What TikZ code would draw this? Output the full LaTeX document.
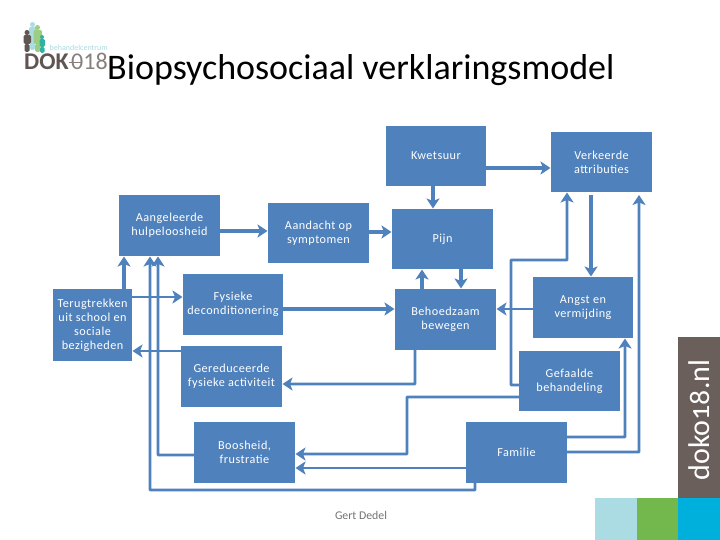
\documentclass[tikz,border=0pt]{standalone}
\usepackage{fontspec}
\setmainfont{Carlito}
\usetikzlibrary{arrows.meta,calc}
\definecolor{boxb}{HTML}{4F81BD}
\definecolor{brn}{HTML}{6B5F5C}
\definecolor{lblue}{HTML}{ABDCE4}
\definecolor{grn}{HTML}{72B84C}
\definecolor{cyn}{HTML}{00B0DC}
\definecolor{logod}{HTML}{5F5552}
\tikzset{
  bx/.style={fill=boxb,draw=none,text=white,align=center,inner sep=0pt,outer sep=0pt,font=\fontsize{12.2}{14}\selectfont\addfontfeatures{LetterSpace=4}},
  arr/.style={draw=boxb,line width=3.2pt,-{Stealth[length=10pt,width=13pt,inset=2.5pt]},shorten >=0.5pt},
  lin/.style={draw=boxb,line width=2.7pt,-{Stealth[length=10pt,width=13pt,inset=2.5pt]},shorten >=0.5pt,rounded corners=0.5pt},
  fig/.style={rounded corners=1.5pt},
}
\newcommand{\bxn}[6]{\node[bx,minimum width=#4pt,minimum height=#5pt] (#1) at (#2,#3) {#6};}
\begin{document}
\begin{tikzpicture}[x=1pt,y=-1pt]
\useasboundingbox (0,0) rectangle (720,540);
\fill[white] (0,0) rectangle (720,540);
% logo figures
\fill[lblue] (32.5,24.5) circle (2.5);
\fill[lblue,fig] (29,27) rectangle (37,41);
\fill[lblue,fig] (30,41) rectangle (35,50);
\fill[grn!70!white] (37.5,27.5) circle (2.5);
\fill[grn!70!white,fig] (33.5,30) rectangle (42,44);
\fill[grn!70!white,fig] (35,44) rectangle (40.5,52);
\fill[logod] (27,32.5) circle (2.5);
\fill[logod,fig] (23.5,35) rectangle (31,44);
\fill[logod,fig] (24.5,44) rectangle (29.5,52);
\fill[cyn!60!grn] (42,37) circle (2);
\fill[cyn!60!grn,fig] (39.5,39) rectangle (45,47);
\fill[cyn!60!grn,fig] (40,47) rectangle (44.5,53);
\node[anchor=west,inner sep=0pt,text=lblue] (lg1) at (49.5,48) {\fontsize{8}{9}\selectfont behandelcentrum};
\node[anchor=base west,inner sep=0pt,text=logod] (lg2) at (24,70) {\fontsize{24}{26}\selectfont\bfseries DOK};
\node[anchor=base west,inner sep=0pt,text=logod!75!white] (lg3) at (71,70) {\fontsize{24}{26}\selectfont 018};
\draw[logod!75!white,line width=1pt] (lg2.east |- 0,62.5) -- +(12,0);
\node[anchor=base west,inner sep=0pt,text=black] (title) at (107,79.5) {\fontsize{36}{40}\selectfont Biopsychosociaal verklaringsmodel};
% boxes
\bxn{kw}{436}{156}{100}{60}{Kwetsuur}
\bxn{ve}{601.5}{162}{101}{60}{Verkeerde\\attributies}
\bxn{pi}{442.5}{239}{101}{60}{Pijn}
\bxn{be}{445.5}{319.5}{101}{61}{Behoedzaam\\bewegen}
\bxn{an}{583}{307.5}{100}{61}{Angst en\\vermijding}
\bxn{ge}{569.5}{381}{101}{60}{Gefaalde\\behandeling}
\bxn{fa}{516.5}{452.5}{101}{61}{Familie}
\bxn{aa}{169.5}{225.5}{101}{61}{Aangeleerde\\hulpeloosheid}
\bxn{ad}{318.5}{233}{101}{60}{Aandacht op\\symptomen}
\bxn{te}{92.5}{325}{79}{72}{Terugtrekken\\uit school en\\sociale\\bezigheden}
\bxn{fy}{233}{304.5}{100}{61}{Fysieke\\deconditionering}
\bxn{gr}{231.5}{376.5}{101}{61}{Gereduceerde\\fysieke activiteit}
\bxn{bo}{244.5}{452.5}{101}{61}{Boosheid,\\frustratie}
% connectors
\draw[arr] (aa.east |- 0,231) -- (ad.west |- 0,231);
\draw[arr] (ad.east |- 0,232) -- (pi.west |- 0,232);
\draw[arr] (kw.south -| 433,0) -- (pi.north -| 433,0);
\draw[arr] (kw.east |- 0,168) -- (ve.west |- 0,168);
\draw[arr,shorten <=3pt] (ve.south -| 591,0) -- (an.north -| 591,0);
\draw[arr] (pi.south -| 461,0) -- (be.north -| 461,0);
\draw[arr] (be.north -| 422,0) -- (pi.south -| 422,0);
\draw[arr] (fy.east |- 0,309) -- (be.west |- 0,309);
\draw[lin] (an.west |- 0,309) -- (be.east |- 0,309);
\draw[lin] (ge.west |- 0,385) -- (511,385) -- (511,260) -- (567,260) -- (ve.south -| 567,0);
\draw[lin] (fa.east |- 0,437) -- (625,437) -- (an.south -| 625,0);
\draw[lin,shorten >=3pt] (fa.east |- 0,452) -- (639,452) -- (ve.south -| 639,0);
\draw[lin] (ge.west |- 0,397) -- (407,397) -- (407,454) -- (bo.east |- 0,454);
\draw[lin] (fa.west |- 0,468) -- (bo.east |- 0,468);
\draw[lin] (fa.south -| 475,0) -- (475,490) -- (150,490) -- (aa.south -| 150,0);
\draw[lin] (bo.west |- 0,455) -- (158,455) -- (aa.south -| 158,0);
\draw[arr] (te.north -| 124,0) -- (aa.south -| 124,0);
\draw[lin] (te.east |- 0,297) -- (fy.west |- 0,297);
\draw[lin] (gr.west |- 0,351) -- (te.east |- 0,351);
\draw[lin] (be.south -| 415,0) -- (415,384) -- (gr.east |- 0,384);
% footer
\node[text=black!55,inner sep=0pt] (ft) at (361,515) {\fontsize{11.8}{13}\selectfont Gert Dedel};
\fill[brn] (678,337) rectangle (720,498);
\fill[lblue] (595,498) rectangle (637,540);
\fill[grn] (637,498) rectangle (678,540);
\fill[cyn] (678,498) rectangle (720,540);
\node[rotate=90,text=white,inner sep=0pt] (dk) at (699,420) {\fontsize{30}{34}\selectfont\addfontfeatures{Numbers=OldStyle}doko18.nl};
\end{tikzpicture}
\end{document}
